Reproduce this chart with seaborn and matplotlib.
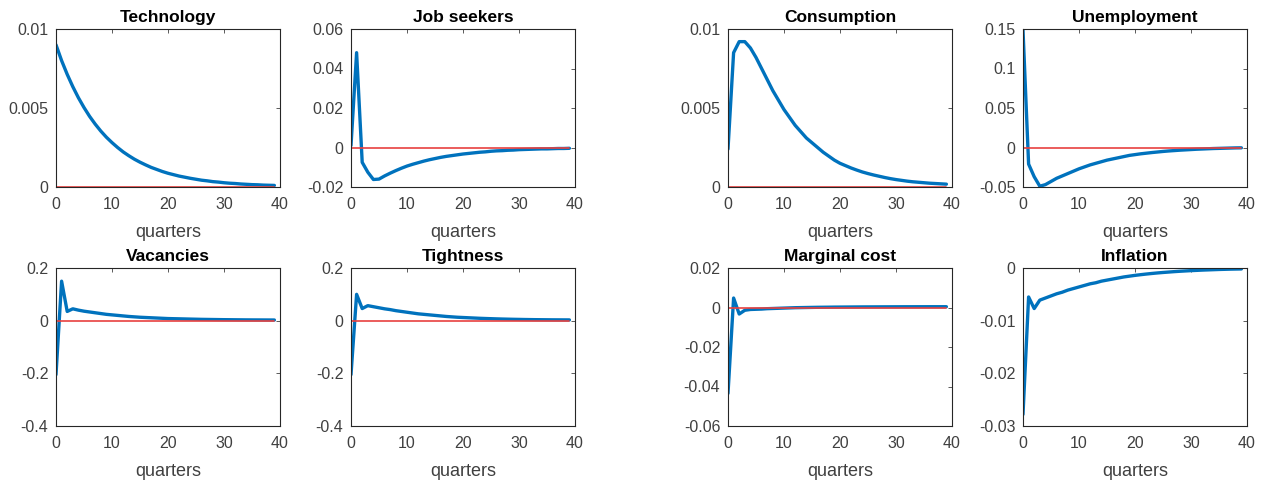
import numpy as np
import pandas as pd
import matplotlib
matplotlib.use('Agg')
import matplotlib.pyplot as plt
import seaborn as sns
from matplotlib.ticker import FuncFormatter

# impulse responses, quarters 0..39
quarters = list(range(40))

technology = [0.0090, 0.0080, 0.00713, 0.00635, 0.00565, 0.00503, 0.00447, 0.00398, 0.00354, 0.00315,
              0.00281, 0.00250, 0.00222, 0.00198, 0.00176, 0.00157, 0.00140, 0.00124, 0.00111, 0.00098,
              0.00087, 0.00078, 0.00069, 0.00062, 0.00055, 0.00049, 0.00043, 0.00039, 0.00034, 0.00031,
              0.00027, 0.00024, 0.00022, 0.00019, 0.00017, 0.00015, 0.00014, 0.00012, 0.00011, 0.00010]

job_seekers = [0.001, 0.048, -0.0075, -0.0125, -0.0162, -0.0160, -0.0144, -0.0130, -0.0117, -0.0105,
               -0.0094, -0.0085, -0.0077, -0.0069, -0.0062, -0.0056, -0.0050, -0.0045, -0.0041, -0.0037,
               -0.0033, -0.0030, -0.0027, -0.0024, -0.0022, -0.0019, -0.0017, -0.0016, -0.0014, -0.0013,
               -0.0011, -0.0010, -0.0009, -0.0008, -0.0007, -0.0007, -0.0006, -0.0005, -0.0005, -0.0004]

vacancies = [-0.205, 0.150, 0.035, 0.045, 0.040, 0.036, 0.033, 0.030, 0.027, 0.024,
             0.022, 0.020, 0.018, 0.016, 0.0145, 0.013, 0.012, 0.011, 0.010, 0.009,
             0.008, 0.0075, 0.007, 0.0065, 0.006, 0.0055, 0.005, 0.0047, 0.0044, 0.0041,
             0.0038, 0.0036, 0.0034, 0.0032, 0.0030, 0.0029, 0.0028, 0.0027, 0.0026, 0.0025]

tightness = [-0.205, 0.100, 0.046, 0.057, 0.053, 0.049, 0.045, 0.042, 0.038, 0.035,
             0.032, 0.029, 0.026, 0.024, 0.022, 0.020, 0.018, 0.016, 0.0145, 0.013,
             0.012, 0.011, 0.010, 0.009, 0.0082, 0.0075, 0.0068, 0.0062, 0.0057, 0.0052,
             0.0048, 0.0044, 0.0041, 0.0038, 0.0036, 0.0034, 0.0032, 0.0031, 0.0030, 0.0029]

consumption = [0.0024, 0.0085, 0.0092, 0.0092, 0.0088, 0.0082, 0.0075, 0.0068, 0.0061, 0.0055,
               0.0049, 0.0044, 0.0039, 0.0035, 0.0031, 0.0028, 0.0025, 0.0022, 0.00195, 0.0017,
               0.0015, 0.00135, 0.0012, 0.00107, 0.00095, 0.00085, 0.00076, 0.00068, 0.0006, 0.00053,
               0.00047, 0.00042, 0.00037, 0.00033, 0.0003, 0.00027, 0.00024, 0.00022, 0.0002, 0.00018]

unemployment = [0.149, -0.021, -0.037, -0.049, -0.047, -0.043, -0.039, -0.036, -0.033, -0.030,
                -0.027, -0.0245, -0.022, -0.020, -0.018, -0.016, -0.0145, -0.013, -0.0115, -0.010,
                -0.009, -0.008, -0.0072, -0.0064, -0.0057, -0.0050, -0.0044, -0.0039, -0.0034, -0.0030,
                -0.0026, -0.0022, -0.0019, -0.0016, -0.0013, -0.0011, -0.0009, -0.0007, -0.0005, -0.0004]

marginal_cost = [-0.0435, 0.0048, -0.0033, -0.0014, -0.0010, -0.0009, -0.0008, -0.0006, -0.0005, -0.0004,
                 -0.0003, -0.0002, -0.0001, -0.00005, 0.0, 0.00005, 0.0001, 0.00013, 0.00016, 0.0002,
                 0.00022, 0.00024, 0.00026, 0.00028, 0.0003, 0.00031, 0.00032, 0.00033, 0.00034, 0.00035,
                 0.00036, 0.00037, 0.00038, 0.00038, 0.00039, 0.00039, 0.0004, 0.0004, 0.0004, 0.0004]

inflation = [-0.0278, -0.0055, -0.0077, -0.0061, -0.0057, -0.0053, -0.0049, -0.0046, -0.0042, -0.0039,
             -0.0036, -0.0033, -0.0030, -0.0028, -0.0025, -0.0023, -0.0021, -0.0019, -0.0017, -0.00155,
             -0.0014, -0.00127, -0.00115, -0.00104, -0.00094, -0.00085, -0.00077, -0.00069, -0.00062, -0.00056,
             -0.0005, -0.00045, -0.0004, -0.00036, -0.00032, -0.00028, -0.00025, -0.00022, -0.0002, -0.00018]

titles = ['Technology', 'Job seekers', 'Consumption', 'Unemployment',
          'Vacancies', 'Tightness', 'Marginal cost', 'Inflation']
series = [technology, job_seekers, consumption, unemployment,
          vacancies, tightness, marginal_cost, inflation]
yticks = [[0, 0.005, 0.01], [-0.02, 0, 0.02, 0.04, 0.06],
          [0, 0.005, 0.01], [-0.05, 0, 0.05, 0.1, 0.15],
          [-0.4, -0.2, 0, 0.2], [-0.4, -0.2, 0, 0.2],
          [-0.06, -0.04, -0.02, 0, 0.02], [-0.03, -0.02, -0.01, 0]]

sns.set_style('white')
plt.rcParams['font.family'] = ['Liberation Sans', 'DejaVu Sans']
plt.rcParams['axes.unicode_minus'] = False

W, H = 1273, 480
fig = plt.figure(figsize=(W / 100, H / 100), dpi=100)

# axes boxes in pixels (left, top), common size
col_left = [56, 351, 728, 1023]
row_top = [29, 268]
ax_w, ax_h = 224, 158

blue = '#0072BD'
red = '#e8413f'
dark = '#262626'
label_grey = '#404040'


def fmt(v, pos):
    s = '%g' % v
    return '0' if s in ('-0', '0') else s


for i, (title, vals, ticks) in enumerate(zip(titles, series, yticks)):
    r, c = divmod(i, 4)
    ax = fig.add_axes([col_left[c] / W, 1 - (row_top[r] + ax_h) / H, ax_w / W, ax_h / H])
    df = pd.DataFrame({'quarters': quarters, 'irf': vals, 'zero': [0.0] * len(quarters)})
    sns.lineplot(data=df, x='quarters', y='irf', ax=ax, color=blue, linewidth=2.4)
    sns.lineplot(data=df, x='quarters', y='zero', ax=ax, color=red, linewidth=1.2)
    ax.set_xlim(0, 40)
    ax.set_ylim(ticks[0], ticks[-1])
    ax.set_xticks([0, 10, 20, 30, 40])
    ax.set_yticks(ticks)
    ax.yaxis.set_major_formatter(FuncFormatter(fmt))
    ax.set_title(title, fontsize=12.5, fontweight='bold', pad=5, color='black')
    ax.set_xlabel('quarters', fontsize=13, color=label_grey, labelpad=8)
    ax.set_ylabel('')
    ax.tick_params(direction='in', top=True, right=True, length=3, width=0.6,
                   labelsize=11.5, colors=label_grey)
    ax.tick_params(axis='x', pad=7.5)
    ax.tick_params(axis='y', pad=5.5)
    for sp in ax.spines.values():
        sp.set_color(dark)
        sp.set_linewidth(0.8)

fig.savefig('out.png', dpi=100)
